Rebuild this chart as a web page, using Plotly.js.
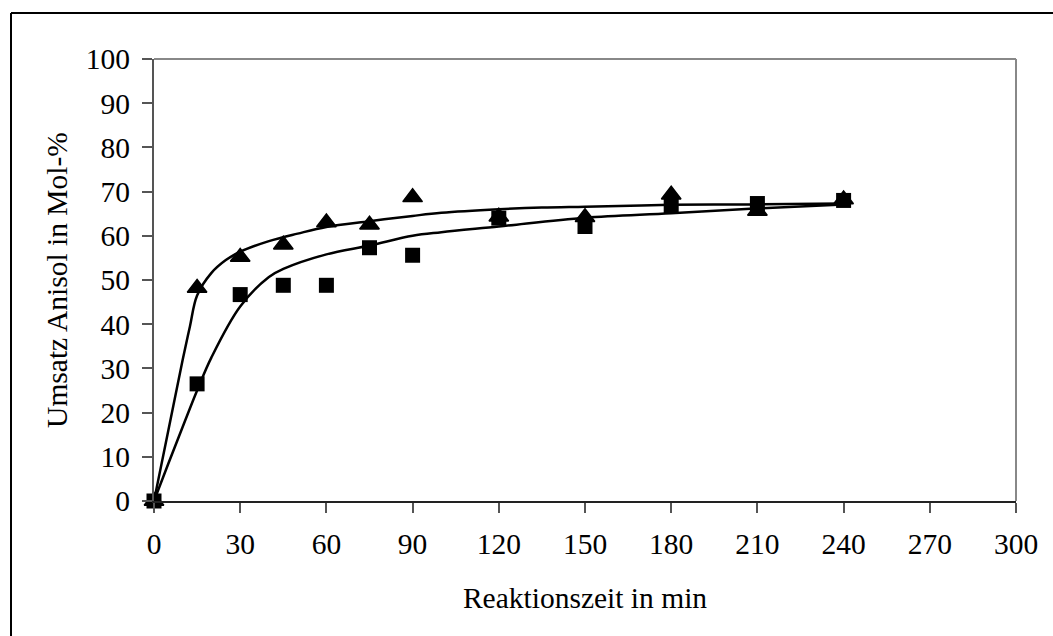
<!DOCTYPE html>
<html><head><meta charset="utf-8">
<script src="https://cdn.plot.ly/plotly-3.0.1.min.js"></script>
<style>html,body{margin:0;padding:0;background:#fff;}#chart{width:1053px;height:636px;}</style>
</head><body><div id="chart"></div>
<script>
// Measured data (time in min, conversion in mol-%)
const timeA = [0, 15, 30, 45, 60, 75, 90, 120, 150, 180, 210, 240];
const convTriangle = [0, 48.2, 55.2, 58, 63, 62.5, 68.7, 64.3, 64.2, 69.3, 65.6, 68.2];
const convSquare = [0, 26.5, 46.7, 48.8, 48.8, 57.3, 55.6, 64, 62.1, 66.8, 67.3, 68];
// Fitted curves
const fitTimeTri = [0, 5, 10, 12.5, 15, 20, 25, 30, 40, 50, 60, 75, 90, 100, 120, 135, 150, 180, 210, 240];
const fitTri = [0, 16, 32, 39.5, 46.5, 51.6, 54.5, 56.4, 58.8, 60.5, 62, 63.3, 64.5, 65.2, 66, 66.4, 66.6, 67, 67.1, 67.3];
const fitTimeSq = [0, 5, 10, 15, 20, 30, 40, 45, 60, 75, 90, 100, 120, 150, 180, 210, 240];
const fitSq = [0, 8.5, 16.8, 25, 32.5, 44, 50.7, 52.5, 55.8, 57.8, 60, 60.8, 62.1, 64.1, 65.1, 66.2, 67.1];
const xTicks = [0, 30, 60, 90, 120, 150, 180, 210, 240, 270, 300];
const yTicks = [0, 10, 20, 30, 40, 50, 60, 70, 80, 90, 100];

const traces = [
  {x: fitTimeTri, y: fitTri, mode: 'lines', line: {color: '#000', width: 2.5, shape: 'spline', smoothing: 1}, hoverinfo: 'skip', cliponaxis: false},
  {x: fitTimeSq, y: fitSq, mode: 'lines', line: {color: '#000', width: 2.5, shape: 'spline', smoothing: 1}, hoverinfo: 'skip', cliponaxis: false},
  {x: timeA, y: convSquare, mode: 'markers', cliponaxis: false, marker: {symbol: 'square', size: 15, color: '#000', line: {width: 0}}},
  {x: timeA, y: convTriangle, mode: 'markers', cliponaxis: false, marker: {symbol: 'triangle-up', size: 17, color: '#000', line: {color: '#000', width: 1.5}}}
];

const W = 1053, H = 636, L = 154, R = 37, T = 59, B = 135;
const pw = W - L - R, ph = H - T - B;
const px = v => (v - L) / pw;
const py = v => 1 - (v - T) / ph;
const FS = 29.5;

const layout = {
  width: W, height: H,
  margin: {l: L, r: R, t: T, b: B, pad: 0},
  paper_bgcolor: '#fff', plot_bgcolor: '#fff',
  showlegend: false,
  font: {family: 'Liberation Serif, Times New Roman, serif', color: '#000', size: FS},
  xaxis: {
    range: [0, 300], tickvals: xTicks, ticktext: xTicks.map(String),
    showgrid: false, zeroline: false, showline: true, linecolor: '#222', linewidth: 2,
    ticks: 'outside', ticklen: 10, tickwidth: 2, tickcolor: '#555',
    tickfont: {size: FS}, automargin: false, ticklabelstandoff: 6,
    title: {text: 'Reaktionszeit in min', font: {size: FS}, standoff: 28}
  },
  yaxis: {
    range: [0, 100], tickvals: yTicks, ticktext: yTicks.map(String),
    showgrid: false, zeroline: false, showline: true, linecolor: '#555', linewidth: 2,
    ticks: 'outside', ticklen: 10, tickwidth: 2, tickcolor: '#555',
    tickfont: {size: FS}, automargin: false, ticklabelstandoff: 6,
    title: {text: 'Umsatz Anisol in Mol-%', font: {size: FS}, standoff: 10}
  },
  shapes: [
    {type: 'line', xref: 'paper', yref: 'paper', x0: 0, x1: 1, y0: 1, y1: 1, line: {color: '#888', width: 2}},
    {type: 'line', xref: 'paper', yref: 'paper', x0: 1, x1: 1, y0: 0, y1: 1, line: {color: '#888', width: 2}},
    {type: 'line', xref: 'paper', yref: 'paper', x0: px(11), x1: px(1060), y0: py(13), y1: py(13), line: {color: '#000', width: 2}},
    {type: 'line', xref: 'paper', yref: 'paper', x0: px(11), x1: px(11), y0: py(13), y1: py(650), line: {color: '#000', width: 2}}
  ]
};

Plotly.newPlot('chart', traces, layout, {displayModeBar: false, staticPlot: true});
</script></body></html>
